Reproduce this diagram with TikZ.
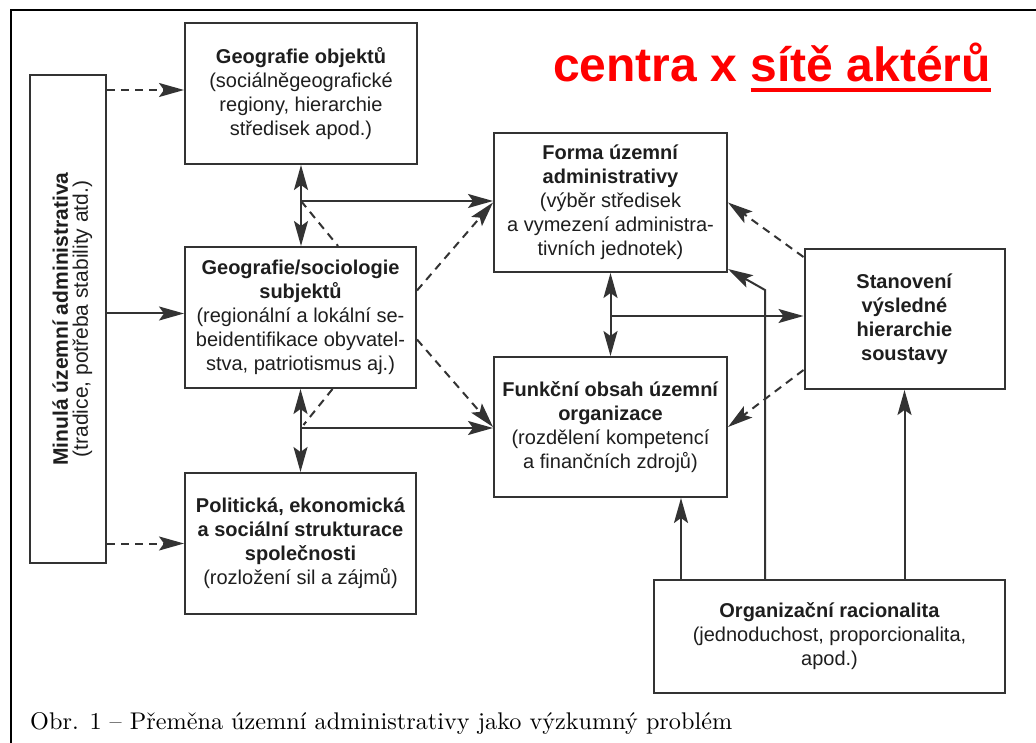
\documentclass[tikz,border=0pt]{standalone}
\usepackage{fontspec}
\usepackage{graphicx}
\usetikzlibrary{arrows.meta,calc}
\newfontfamily\boxfont{Liberation Sans}
\definecolor{ln}{HTML}{333333}
\definecolor{tx}{HTML}{1E1E1E}
\definecolor{redt}{HTML}{FF0000}
\newcommand\thickul[1]{\setbox0\hbox{#1}\rlap{\rule[-10pt]{\wd0}{4pt}}\box0}
\begin{document}
\begin{tikzpicture}[x=1pt,y=-1pt,
  >={Stealth[length=25pt,width=14pt,inset=5pt]},
  box/.style={draw=ln, line width=2pt, rectangle, inner sep=0pt, align=center,
    text=tx, font=\boxfont\fontsize{20}{24}\selectfont},
  conn/.style={draw=ln, line width=2pt, ->},
  dbl/.style={draw=ln, line width=2pt, <->},
  dsh/.style={draw=ln, line width=2pt, dash pattern=on 8pt off 6pt},
  dconn/.style={dsh, ->},
]
\fill[white] (0,0) rectangle (1036,743);
\useasboundingbox (0,0) rectangle (1036,743);
% frame
\draw[black, line width=2.5pt] (11,743) -- (11,10) -- (1036,10);

% title
\node[anchor=base west, inner sep=0pt, text=redt, font=\boxfont\bfseries\fontsize{48}{48}\selectfont] (title) at (553,82) {centra x \thickul{sítě aktérů}};

% boxes
\node[box, minimum width=76pt, minimum height=488pt] (past) at (68,319)
  {\hspace*{10pt}\rotatebox{90}{\fontsize{21}{24}\selectfont\begin{tabular}{@{}c@{}}\textbf{Minulá územní administrativa}\\[-4pt](tradice, potřeba stability atd.)\end{tabular}}};
\node[box, minimum width=232pt, minimum height=141pt] (geoobj) at (301,93.5)
  {\textbf{Geografie objektů}\\(sociálněgeografické\\regiony, hierarchie\\středisek apod.)};
\node[box, minimum width=231pt, minimum height=141pt] (geosoc) at (300.5,317.5)
  {\textbf{Geografie/sociologie}\\\textbf{subjektů}\\(regionální a lokální se-\\beidentifikace obyvatel-\\stva, patriotismus aj.)};
\node[box, minimum width=231pt, minimum height=141pt] (polit) at (300.5,543.5)
  {\textbf{Politická, ekonomická}\\\textbf{a sociální strukturace}\\\textbf{společnosti}\\(rozložení sil a zájmů)};
\node[box, minimum width=233pt, minimum height=139pt] (forma) at (610.5,202.5)
  {\textbf{Forma územní}\\\textbf{administrativy}\\(výběr středisek\\a vymezení administra-\\tivních jednotek)};
\node[box, minimum width=233pt, minimum height=140pt] (funk) at (610.5,427)
  {\textbf{Funkční obsah územní}\\\textbf{organizace}\\(rozdělení kompetencí\\a finančních zdrojů)};
\node[box, minimum width=200pt, minimum height=140pt] (stan) at (904.5,319)
  {\textbf{Stanovení}\\\textbf{výsledné}\\\textbf{hierarchie}\\\textbf{soustavy}};
\node[box, minimum width=351pt, minimum height=113pt] (org) at (829.5,636.5)
  {\textbf{Organizační racionalita}\\(jednoduchost, proporcionalita,\\apod.)};

% caption
\node[anchor=base west, inner sep=0pt, text=black] (cap) at (30,729)
  {\resizebox{702pt}{17pt}{Obr. 1 – Přeměna územní administrativy jako výzkumný problém}};

% coordinates
\coordinate (a1) at ([yshift=3.5pt]geoobj.west);
\coordinate (a2) at ([yshift=4pt]geosoc.west);
\coordinate (j1) at (geoobj.south |- 0,201);
\coordinate (j2) at (geosoc.south |- 0,428);
\coordinate (j3) at (forma.south |- 0,316);
\coordinate (o1) at ($(org.north)+(-148.5,0)$);
\coordinate (o2) at ($(org.north)+(-64.5,0)$);
\coordinate (o3) at (org.north -| stan.south);

% left box outputs
\draw[dconn] (a1 -| past.east) -- (a1);
\draw[conn] (a2 -| past.east) -- (a2);
\draw[dconn] (polit.west -| past.east) -- (polit.west);

% left column
\draw[dbl] (geoobj.south) -- (geoobj.south |- geosoc.north);
\draw[conn] (j1) -- (j1 -| forma.west);
\draw[dsh] (j1) -- ($(geosoc.north)+(37.5,0)$);
\draw[dconn] ($(geosoc.east)+(0,-27)$) -- (forma.west);
\draw[dconn] ($(geosoc.east)+(0,22)$) -- (funk.west);
\draw[dbl] (geosoc.south) -- (geosoc.south |- polit.north);
\draw[conn] (j2) -- (j2 -| funk.west);
\draw[dsh] ($(geosoc.south)+(32,0)$) -- ($(j2)+(3,-3)$);

% middle column
\draw[dbl] (forma.south) -- (funk.north);
\draw[conn] (j3) -- (j3 -| stan.west);
\draw[dconn] ($(stan.west)+(0,-62)$) -- (forma.east);
\draw[dconn] ($(stan.west)+(0,51)$) -- (funk.east);

% from organizational rationality
\draw[conn] (o1) -- (o1 |- funk.south);
\draw[conn] (o2) -- (o2 |- 0,290) -- ($(forma.south east)+(0,-4)$);
\draw[conn] (o3) -- (stan.south);
\end{tikzpicture}
\end{document}
